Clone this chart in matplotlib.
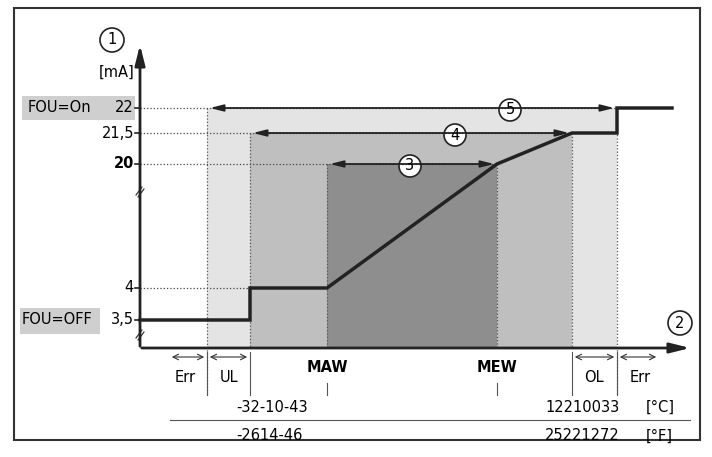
import matplotlib.pyplot as plt
from matplotlib.patches import Rectangle, Circle

# y position of each current level (mA -> drawing row)
levels = {22: 108, 21.5: 133, 20: 164, 4: 288, 3.5: 320}
level_labels = ["22", "21,5", "20", "4", "3,5"]

# x positions along the measuring range
x_axis0, x_err, x_ul, x_maw, x_mew, x_ol, x_olend, x_end = 140, 207, 250, 327, 497, 572, 617, 672

# output curve (x, mA)
curve_x = [x_axis0, x_ul, x_ul, x_maw, x_mew, x_ol, x_olend, x_olend, x_end]
curve_mA = [3.5, 3.5, 4, 4, 20, 21.5, 21.5, 22, 22]

temp_c = ["-32-10-43", "12210033", "[°C]"]
temp_f = ["-2614-46", "25221272", "[°F]"]

fig = plt.figure(figsize=(7.12, 4.57), dpi=100)
ax = fig.add_axes([0, 0, 1, 1])
ax.set_xlim(0, 712)
ax.set_ylim(457, 0)
ax.axis("off")
fs = 10.5
y0 = 348

ax.add_patch(Rectangle((14, 8), 686, 432, fill=False, lw=1.5, ec="#333333"))

# shaded regions
ax.add_patch(Rectangle((x_err, levels[22]), x_olend - x_err, y0 - levels[22], fc="#e4e4e4", ec="none"))
ax.add_patch(Rectangle((x_ul, levels[21.5]), x_ol - x_ul, y0 - levels[21.5], fc="#bfbfbf", ec="none"))
ax.add_patch(Rectangle((x_maw, levels[20]), x_mew - x_maw, y0 - levels[20], fc="#8e8e8e", ec="none"))

# dotted guides
for v in [22, 21.5, 20, 4]:
    ax.plot([x_axis0, {22: x_olend, 21.5: x_ol, 20: x_mew, 4: x_ul}[v]], [levels[v]] * 2, ":", color="#444", lw=0.9)
for xv in [x_err, x_olend]:
    ax.plot([xv, xv], [levels[22], 395], ":", color="#555", lw=0.9)
ax.plot([x_ul, x_ul], [levels[21.5], 348], ":", color="#555", lw=0.9)
ax.plot([x_ol, x_ol], [levels[21.5], 348], ":", color="#555", lw=0.9)
ax.plot([x_maw, x_maw], [levels[20], 348], ":", color="#555", lw=0.9)
ax.plot([x_mew, x_mew], [levels[20], 348], ":", color="#555", lw=0.9)

# axes
ax.annotate("", xy=(693, y0), xytext=(x_axis0 - 1, y0),
            arrowprops=dict(arrowstyle="-|>,head_length=1.2,head_width=0.3", color="#222", lw=2))
ax.annotate("", xy=(x_axis0, 42), xytext=(x_axis0, y0 + 1),
            arrowprops=dict(arrowstyle="-|>,head_length=1.2,head_width=0.3", color="#222", lw=2))
for yb in [190, 333]:
    ax.plot([x_axis0 - 4, x_axis0 + 2], [yb + 5, yb - 3], color="#222", lw=0.8)
    ax.plot([x_axis0 - 2, x_axis0 + 4], [yb + 7, yb - 1], color="#222", lw=0.8)

# curve
ax.plot(curve_x, [levels[m] for m in curve_mA], color="#222", lw=2.5, solid_joinstyle="miter")

# tick labels
ax.add_patch(Rectangle((22, 96), 113, 24, fc="#cfcfcf", ec="none"))
ax.add_patch(Rectangle((20, 308), 80, 26, fc="#cfcfcf", ec="none"))
for v, lab in zip(levels, level_labels):
    ax.plot([x_axis0 - 5, x_axis0], [levels[v]] * 2, color="#222", lw=1.2)
    ax.text(x_axis0 - 6, levels[v], lab, ha="right", va="center", fontsize=fs,
            fontweight="bold" if v == 20 else "normal")
ax.text(28, levels[22], "FOU=On", ha="left", va="center", fontsize=fs)
ax.text(22, levels[3.5], "FOU=OFF", ha="left", va="center", fontsize=fs)
ax.text(x_axis0 - 5, 72, "[mA]", ha="right", va="center", fontsize=fs)

# range arrows with circled numbers
for (xa, xb, yv, num, xc) in [(x_err, x_olend, levels[22], "5", 510),
                              (x_ul, x_ol, levels[21.5], "4", 455),
                              (x_maw, x_mew, levels[20], "3", 410)]:
    ax.annotate("", xy=(xa, yv), xytext=(xb, yv),
                arrowprops=dict(arrowstyle="<|-|>,head_length=0.8,head_width=0.2", color="#222", lw=1.3))
    ax.add_patch(Circle((xc, yv + 2), 11, fc="white", ec="#222", lw=1.2))
    ax.text(xc, yv + 2, num, ha="center", va="center", fontsize=fs)
for (xc, yc, num) in [(112, 40, "1"), (680, 323, "2")]:
    ax.add_patch(Circle((xc, yc), 12, fc="white", ec="#222", lw=1.2))
    ax.text(xc, yc, num, ha="center", va="center", fontsize=fs)

# bottom annotations
for xv, y1 in [(x_err, 395), (x_ul, 395), (x_ol, 395), (x_olend, 395)]:
    ax.plot([xv, xv], [352, y1], color="#555", lw=0.8)
for xv in [x_maw, x_mew]:
    ax.plot([xv, xv], [383, 395], color="#555", lw=0.8)
    ax.text(xv, 367, "MAW" if xv == x_maw else "MEW", ha="center", va="center", fontsize=fs, fontweight="bold")
for xa, xb in [(x_err - 38, x_err), (x_err, x_ul), (x_ol, x_olend), (x_olend, x_olend + 42)]:
    ax.annotate("", xy=(xa, 357), xytext=(xb, 357),
                arrowprops=dict(arrowstyle="<->,head_length=0.4,head_width=0.2", color="#333", lw=0.8))
for xt, lab in [(185, "Err"), (229, "UL"), (594, "OL"), (640, "Err")]:
    ax.text(xt, 377, lab, ha="center", va="center", fontsize=fs)
ax.plot([170, 690], [420, 420], color="#555", lw=0.8)
ax.text(236, 407, temp_c[0], ha="left", va="center", fontsize=fs)
ax.text(620, 407, temp_c[1], ha="right", va="center", fontsize=fs)
ax.text(646, 407, temp_c[2], ha="left", va="center", fontsize=fs)
ax.text(236, 436, temp_f[0], ha="left", va="center", fontsize=fs)
ax.text(620, 436, temp_f[1], ha="right", va="center", fontsize=fs)
ax.text(646, 436, temp_f[2], ha="left", va="center", fontsize=fs)

fig.savefig("out.png", dpi=100)
